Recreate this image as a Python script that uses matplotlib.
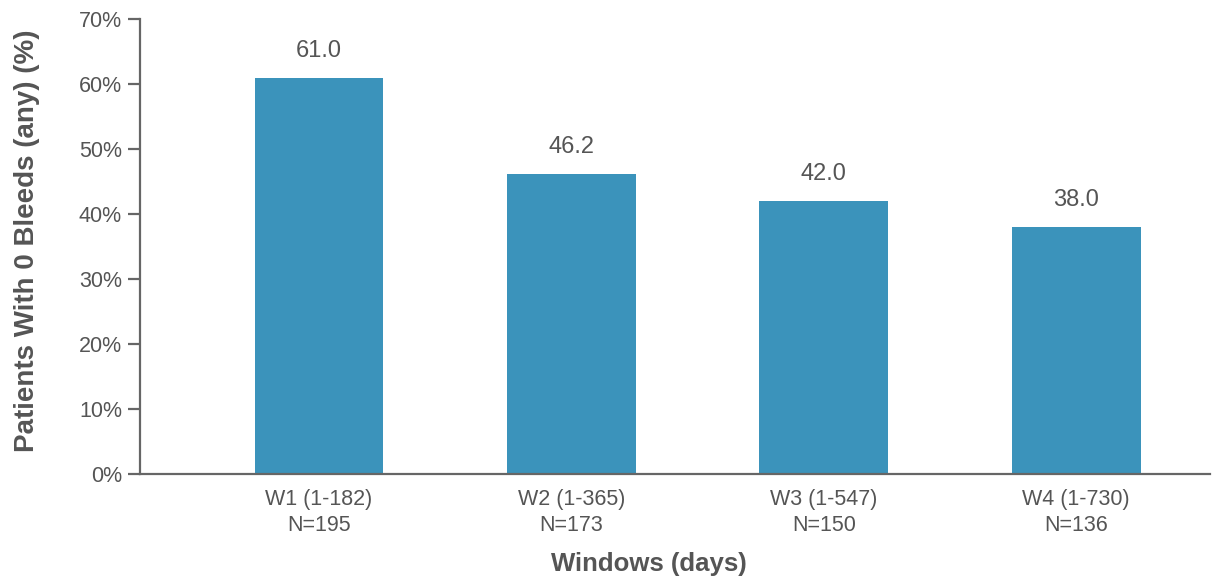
import numpy as np
import matplotlib.pyplot as plt

# data
windows = ['W1 (1-182)\nN=195', 'W2 (1-365)\nN=173', 'W3 (1-547)\nN=150', 'W4 (1-730)\nN=136']
pct = [61.0, 46.2, 42.0, 38.0]

plt.rcParams['font.family'] = ['Liberation Sans', 'DejaVu Sans']
gray = '#555555'

fig = plt.figure(figsize=(12.18, 5.8), dpi=100)
ax = fig.add_axes([0.1149, 0.1828, 0.8785, 0.7844])

x = np.arange(len(pct))
bars = ax.bar(x, pct, width=0.51, color='#3b93bb')
for xi, v in zip(x, pct):
    ax.text(xi, v + 2.4, '%.1f' % v, ha='center', va='bottom', fontsize=17, color=gray)

ax.set_xlim(-0.71, 3.53)
ax.set_ylim(0, 70)
ax.set_yticks(range(0, 71, 10))
ax.set_yticklabels(['%d%%' % t for t in range(0, 71, 10)])
ax.set_xticks(x)
ax.set_xticklabels(windows, linespacing=1.3)

for s in ['top', 'right']:
    ax.spines[s].set_visible(False)
for s in ['left', 'bottom']:
    ax.spines[s].set_color('#666666')
    ax.spines[s].set_linewidth(1.6)
ax.tick_params(axis='y', length=9, width=1.6, color='#666666', labelsize=15.5, labelcolor=gray, pad=4)
ax.tick_params(axis='x', length=0, labelsize=15.5, labelcolor=gray, pad=11)

ax.set_xlabel('Windows (days)', fontsize=18.5, fontweight='bold', color=gray)
ax.set_ylabel('Patients With 0 Bleeds (any) (%)', fontsize=20, fontweight='bold', color=gray)
ax.xaxis.set_label_coords(0.476, -0.172)
ax.yaxis.set_label_coords(-0.093, 0.512)

fig.savefig('out.png', dpi=100)
